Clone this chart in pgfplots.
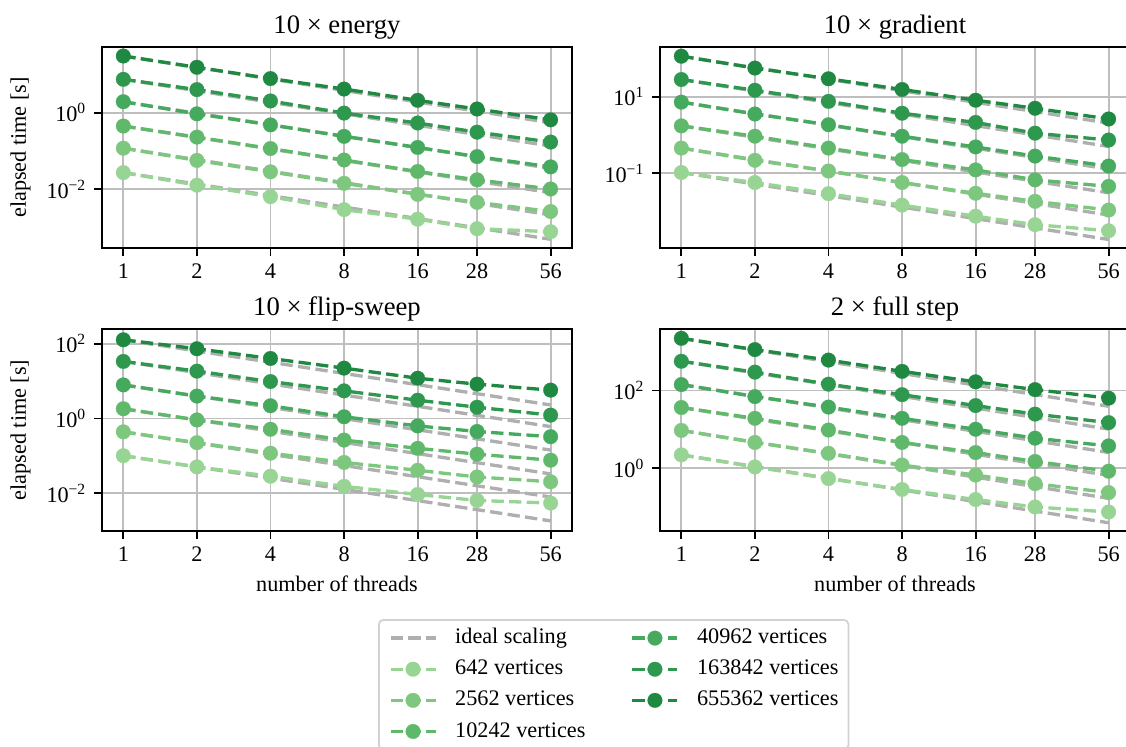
\documentclass[border=0pt]{standalone}
\usepackage{fontspec}
\setmainfont{Liberation Serif}
\usepackage{pgfplots}
\pgfplotsset{compat=1.18}

\definecolor{g1}{RGB}{152,213,148}
\definecolor{g2}{RGB}{125,200,126}
\definecolor{g3}{RGB}{96,185,107}
\definecolor{g4}{RGB}{69,170,93}
\definecolor{g5}{RGB}{47,152,79}
\definecolor{g6}{RGB}{31,137,66}
\definecolor{idealc}{RGB}{175,175,175}
\definecolor{gridc}{RGB}{190,190,190}
\definecolor{legc}{RGB}{210,210,210}

\tikzset{
  myser/.style={color=#1, line width=1.5pt, dash pattern=on 5.55pt off 2.4pt,
    mark=*, mark size=3.3pt, mark options={solid, fill=#1, draw=#1, line width=0.1pt}},
  myideal/.style={color=idealc, line width=1.5pt, dash pattern=on 5.55pt off 2.4pt},
}

\begin{document}
\begin{tikzpicture}
\useasboundingbox (0,0) rectangle (506.7pt,-335.7pt);

% ---------- top left: energy ----------
\begin{axis}[scale only axis, width=211.5pt, height=90.45pt,
  at={(45.9pt,-111.6pt)}, anchor=south west,
  xmode=log, ymode=log, xmin=0.818, xmax=68.5,
  xtick={1,2,4,8,16,28,56}, xticklabels={1,2,4,8,16,28,56},
  xminorticks=false, yminorticks=false,
  tick align=outside, tick pos=left, major tick length=3.5pt,
  grid=major, major grid style={gridc, line width=0.8pt},
  axis line style={line width=0.8pt},
  tick style={black, line width=0.8pt},
  tick label style={font=\fontsize{10}{12}\selectfont},
  title style={at={(0.5,1)}, anchor=base, yshift=0pt, font=\fontsize{12}{14}\selectfont},
  ylabel style={at={(-0.1617,0.5)}, anchor=base, font=\fontsize{10}{12}\selectfont},
  ymin=2.84e-4, ymax=52.7,
  ytick={0.01,1}, yticklabels={10\textsuperscript{−2},10\textsuperscript{0}},
  title={10 × energy}, ylabel={elapsed time [s]}]
\addplot[myideal] coordinates {(1,30.6)(56,0.5464)};
\addplot[myideal] coordinates {(1,7.5)(56,0.1339)};
\addplot[myideal] coordinates {(1,1.94)(56,0.03464)};
\addplot[myideal] coordinates {(1,0.447)(56,0.007982)};
\addplot[myideal] coordinates {(1,0.1175)(56,0.002098)};
\addplot[myideal] coordinates {(1,0.0269)(56,0.0004804)};
\addplot[myser=g1] coordinates {(1,0.0269)(2,0.0126)(4,0.00631)(8,0.00288)(16,0.00162)(28,0.000912)(56,0.000759)};
\addplot[myser=g2] coordinates {(1,0.1175)(2,0.0562)(4,0.0282)(8,0.0141)(16,0.00724)(28,0.00447)(56,0.00257)};
\addplot[myser=g3] coordinates {(1,0.447)(2,0.229)(4,0.115)(8,0.0575)(16,0.0288)(28,0.0174)(56,0.0100)};
\addplot[myser=g4] coordinates {(1,1.94)(2,0.933)(4,0.479)(8,0.240)(16,0.123)(28,0.0708)(56,0.038)};
\addplot[myser=g5] coordinates {(1,7.5)(2,4.03)(4,2.03)(8,0.977)(16,0.537)(28,0.309)(56,0.17)};
\addplot[myser=g6] coordinates {(1,30.6)(2,15.5)(4,7.85)(8,4.17)(16,2.11)(28,1.25)(56,0.65)};
\end{axis}

% ---------- top right: gradient ----------
\begin{axis}[scale only axis, width=211.5pt, height=90.45pt,
  at={(297pt,-111.6pt)}, anchor=south west,
  xmode=log, ymode=log, xmin=0.818, xmax=68.5,
  xtick={1,2,4,8,16,28,56}, xticklabels={1,2,4,8,16,28,56},
  xminorticks=false, yminorticks=false,
  tick align=outside, tick pos=left, major tick length=3.5pt,
  grid=major, major grid style={gridc, line width=0.8pt},
  axis line style={line width=0.8pt},
  tick style={black, line width=0.8pt},
  tick label style={font=\fontsize{10}{12}\selectfont},
  title style={at={(0.5,1)}, anchor=base, yshift=0pt, font=\fontsize{12}{14}\selectfont},
  ymin=1.122e-3, ymax=199.5,
  ytick={0.1,10}, yticklabels={10\textsuperscript{−1},10\textsuperscript{1}},
  title={10 × gradient}]
\addplot[myideal] coordinates {(1,114.8)(56,2.05)};
\addplot[myideal] coordinates {(1,28.2)(56,0.5036)};
\addplot[myideal] coordinates {(1,7.24)(56,0.1293)};
\addplot[myideal] coordinates {(1,1.74)(56,0.03107)};
\addplot[myideal] coordinates {(1,0.457)(56,0.00816)};
\addplot[myideal] coordinates {(1,0.105)(56,0.001875)};
\addplot[myser=g1] coordinates {(1,0.105)(2,0.0575)(4,0.0295)(8,0.0148)(16,0.00759)(28,0.00457)(56,0.00316)};
\addplot[myser=g2] coordinates {(1,0.457)(2,0.219)(4,0.115)(8,0.0575)(16,0.0302)(28,0.0186)(56,0.011)};
\addplot[myser=g3] coordinates {(1,1.74)(2,0.933)(4,0.457)(8,0.229)(16,0.123)(28,0.0676)(56,0.0457)};
\addplot[myser=g4] coordinates {(1,7.24)(2,3.55)(4,1.86)(8,0.933)(16,0.490)(28,0.282)(56,0.155)};
\addplot[myser=g5] coordinates {(1,28.2)(2,14.8)(4,7.59)(8,3.72)(16,2.14)(28,1.12)(56,0.741)};
\addplot[myser=g6] coordinates {(1,114.8)(2,56.2)(4,29.5)(8,15.5)(16,8.13)(28,5.01)(56,2.63)};
\end{axis}

% ---------- bottom left: flip-sweep ----------
\begin{axis}[scale only axis, width=211.5pt, height=90.9pt,
  at={(45.9pt,-238.95pt)}, anchor=south west,
  xmode=log, ymode=log, xmin=0.818, xmax=68.5,
  xtick={1,2,4,8,16,28,56}, xticklabels={1,2,4,8,16,28,56},
  xminorticks=false, yminorticks=false,
  tick align=outside, tick pos=left, major tick length=3.5pt,
  grid=major, major grid style={gridc, line width=0.8pt},
  axis line style={line width=0.8pt},
  tick style={black, line width=0.8pt},
  tick label style={font=\fontsize{10}{12}\selectfont},
  title style={at={(0.5,1)}, anchor=base, yshift=0pt, font=\fontsize{12}{14}\selectfont},
  ylabel style={at={(-0.1617,0.5)}, anchor=base, font=\fontsize{10}{12}\selectfont},
  xlabel style={at={(0.5,0)}, anchor=base, yshift=-27pt, font=\fontsize{10}{12}\selectfont},
  ymin=9.55e-4, ymax=251,
  ytick={0.01,1,100}, yticklabels={10\textsuperscript{−2},10\textsuperscript{0},10\textsuperscript{2}},
  title={10 × flip-sweep}, ylabel={elapsed time [s]}, xlabel={number of threads}]
\addplot[myideal] coordinates {(1,129)(56,2.304)};
\addplot[myideal] coordinates {(1,33.9)(56,0.6054)};
\addplot[myideal] coordinates {(1,7.94)(56,0.1418)};
\addplot[myideal] coordinates {(1,1.82)(56,0.0325)};
\addplot[myideal] coordinates {(1,0.437)(56,0.0078)};
\addplot[myideal] coordinates {(1,0.1)(56,0.001786)};
\addplot[myser=g1] coordinates {(1,0.1)(2,0.0501)(4,0.0282)(8,0.0151)(16,0.00912)(28,0.00631)(56,0.00537)};
\addplot[myser=g2] coordinates {(1,0.437)(2,0.224)(4,0.117)(8,0.0661)(16,0.0407)(28,0.0269)(56,0.02)};
\addplot[myser=g3] coordinates {(1,1.82)(2,0.912)(4,0.513)(8,0.263)(16,0.158)(28,0.110)(56,0.0759)};
\addplot[myser=g4] coordinates {(1,7.94)(2,3.98)(4,2.19)(8,1.11)(16,0.631)(28,0.447)(56,0.324)};
\addplot[myser=g5] coordinates {(1,33.9)(2,18.6)(4,9.77)(8,5.50)(16,3.09)(28,2.0)(56,1.23)};
\addplot[myser=g6] coordinates {(1,129)(2,74.1)(4,40.7)(8,22.4)(16,12.0)(28,8.32)(56,5.75)};
\end{axis}

% ---------- bottom right: full step ----------
\begin{axis}[scale only axis, width=211.5pt, height=90.9pt,
  at={(297pt,-238.95pt)}, anchor=south west,
  xmode=log, ymode=log, xmin=0.818, xmax=68.5,
  xtick={1,2,4,8,16,28,56}, xticklabels={1,2,4,8,16,28,56},
  xminorticks=false, yminorticks=false,
  tick align=outside, tick pos=left, major tick length=3.5pt,
  grid=major, major grid style={gridc, line width=0.8pt},
  axis line style={line width=0.8pt},
  tick style={black, line width=0.8pt},
  tick label style={font=\fontsize{10}{12}\selectfont},
  title style={at={(0.5,1)}, anchor=base, yshift=0pt, font=\fontsize{12}{14}\selectfont},
  xlabel style={at={(0.5,0)}, anchor=base, yshift=-27pt, font=\fontsize{10}{12}\selectfont},
  ymin=0.024, ymax=3802,
  ytick={1,100}, yticklabels={10\textsuperscript{0},10\textsuperscript{2}},
  title={2 × full step}, xlabel={number of threads}]
\addplot[myideal] coordinates {(1,2188)(56,39.07)};
\addplot[myideal] coordinates {(1,562)(56,10.04)};
\addplot[myideal] coordinates {(1,141.3)(56,2.523)};
\addplot[myideal] coordinates {(1,36.3)(56,0.648)};
\addplot[myideal] coordinates {(1,9.33)(56,0.1666)};
\addplot[myideal] coordinates {(1,2.19)(56,0.0391)};
\addplot[myser=g1] coordinates {(1,2.19)(2,1.07)(4,0.537)(8,0.282)(16,0.155)(28,0.1)(56,0.0741)};
\addplot[myser=g2] coordinates {(1,9.33)(2,4.57)(4,2.40)(8,1.20)(16,0.661)(28,0.398)(56,0.234)};
\addplot[myser=g3] coordinates {(1,36.3)(2,19.1)(4,9.55)(8,4.57)(16,2.51)(28,1.48)(56,0.832)};
\addplot[myser=g4] coordinates {(1,141.3)(2,69.2)(4,37.2)(8,19.1)(16,10.0)(28,5.89)(56,3.72)};
\addplot[myser=g5] coordinates {(1,562)(2,295)(4,144.5)(8,77.6)(16,40.7)(28,24.5)(56,14.8)};
\addplot[myser=g6] coordinates {(1,2188)(2,1122)(4,603)(8,309)(16,166)(28,104.7)(56,63.1)};
\end{axis}

% ---------- legend ----------
\begin{axis}[hide axis, scale only axis, width=10pt, height=10pt,
  xmin=0, xmax=1, ymin=0, ymax=1,
  at={(170.1pt,-278.55pt)}, anchor=north west,
  legend columns=2, legend cell align=left,
  legend image code/.code={\draw[mark repeat=2, mark phase=2, #1] plot coordinates {(0pt,0pt) (10.125pt,0pt) (20.25pt,0pt)};},
  legend style={at={(0,1)}, anchor=north west, draw=legc, line width=0.8pt,
    rounded corners=2pt, fill=white, inner xsep=4.5pt, inner ysep=1.2pt,
    font=\fontsize{10}{12}\selectfont, row sep=0pt,
    nodes={inner xsep=0pt, inner ysep=0pt, text height=9.5pt, text depth=4.5pt},
    /tikz/every odd column/.append style={column sep=8.1pt},
    /tikz/column 2/.append style={column sep=20.4pt}}]
\addlegendimage{myideal}\addlegendentry{ideal scaling}
\addlegendimage{myser=g4}\addlegendentry{40962 vertices}
\addlegendimage{myser=g1}\addlegendentry{642 vertices}
\addlegendimage{myser=g5}\addlegendentry{163842 vertices}
\addlegendimage{myser=g2}\addlegendentry{2562 vertices}
\addlegendimage{myser=g6}\addlegendentry{655362 vertices}
\addlegendimage{myser=g3}\addlegendentry{10242 vertices}
\end{axis}
\end{tikzpicture}
\end{document}
